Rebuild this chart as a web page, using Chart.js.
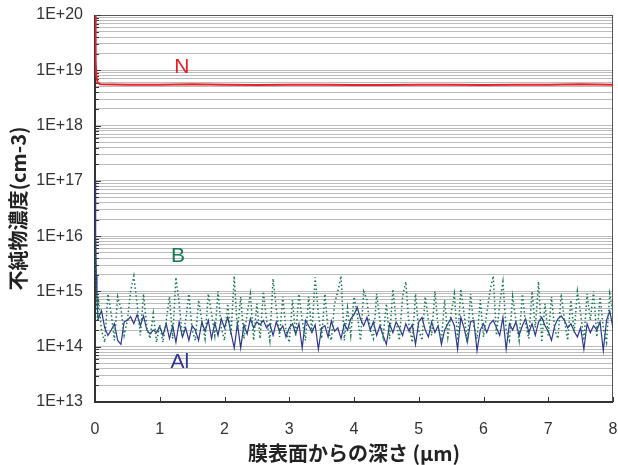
<!DOCTYPE html>
<html>
<head>
<meta charset="utf-8">
<script src="https://cdn.jsdelivr.net/npm/chart.js@4.4.1/dist/chart.umd.min.js"></script>
<style>
  html, body { margin: 0; padding: 0; background: #fff; }
</style>
</head>
<body>
<canvas id="sims" width="618" height="465"></canvas>
<script>
// depth (um) and concentration (cm-3)
const nDepth = [0, 0.01, 0.02, 0.04, 0.08, 0.5, 1, 1.5, 2, 2.5, 3, 3.5, 4, 4.5, 5, 5.5, 6, 6.5, 7, 7.5, 8];
const nConc = [1e20, 1.5e19, 8e18, 6e18, 5.6e18, 5.5e18, 5.5e18, 5.6e18, 5.5e18, 5.4e18, 5.5e18, 5.5e18, 5.4e18,
               5.4e18, 5.5e18, 5.5e18, 5.4e18, 5.5e18, 5.5e18, 5.6e18, 5.5e18];

// near-surface points, then the bulk sampled every 0.05 um from 0.05 to 8.00
const headDepth = [0, 0.01, 0.02, 0.03, 0.04];
const bulkStep = 0.05;

const alHead = [1e17, 1e16, 2e15, 8e14, 4e14];
const alBulk = [
  3.2e14, 4.5e14, 2.2e14, 1.6e14, 2.0e14, 2.6e14, 1.3e14, 1.1e14, 2.8e14, 3.0e14,
  3.5e14, 2.6e14, 3.8e14, 2.4e14, 3.6e14, 2.0e14, 1.7e14, 2.0e14, 1.8e14, 2.3e14,
  1.6e14, 2.6e14, 1.4e14, 2.4e14, 1.2e14, 2.8e14, 1.5e14, 2.2e14, 1.3e14, 2.4e14,
  2.0e14, 1.3e14, 2.8e14, 1.9e14, 3.0e14, 1.4e14, 2.7e14, 1.6e14, 3.2e14, 2.2e14,
  3.4e14, 1.8e14, 0.95e14, 2.6e14, 0.95e14, 2.5e14, 1.7e14, 3.2e14, 2.2e14, 2.8e14,
  2.5e14, 3.0e14, 2.2e14, 2.6e14, 1.6e14, 2.8e14, 1.9e14, 2.4e14, 1.5e14, 2.2e14,
  2.6e14, 1.7e14, 2.6e14, 0.95e14, 3.0e14, 2.4e14, 1.8e14, 2.5e14, 0.9e14, 2.2e14,
  2.4e14, 1.5e14, 2.9e14, 1.9e14, 2.2e14, 1.4e14, 2.6e14, 2.0e14, 3.2e14, 3.8e14,
  5.2e14, 3.2e14, 2.4e14, 3.4e14, 2.0e14, 2.8e14, 1.6e14, 2.4e14, 1.6e14, 1.1e14,
  2.6e14, 1.8e14, 2.8e14, 2.2e14, 1.6e14, 2.6e14, 1.9e14, 2.5e14, 1.1e14, 2.8e14,
  3.4e14, 2.0e14, 1.5e14, 2.8e14, 1.8e14, 2.4e14, 1.1e14, 2.0e14, 2.6e14, 3.3e14,
  2.4e14, 0.9e14, 3.4e14, 2.2e14, 1.2e14, 2.8e14, 3.0e14, 0.85e14, 2.0e14, 2.6e14,
  1.8e14, 2.6e14, 3.0e14, 2.2e14, 1.6e14, 3.4e14, 0.9e14, 2.6e14, 2.0e14, 2.8e14,
  1.6e14, 2.4e14, 3.2e14, 1.8e14, 2.6e14, 1.6e14, 2.8e14, 3.4e14, 2.4e14, 1.9e14,
  1.3e14, 2.4e14, 3.2e14, 3.6e14, 3.0e14, 2.2e14, 2.6e14, 1.9e14, 1.5e14, 2.2e14,
  0.9e14, 2.6e14, 1.8e14, 2.4e14, 2.0e14, 2.8e14, 0.85e14, 3.0e14, 4.4e14, 2.2e14
];

const bHead = [1e16, 3e15, 1.2e15, 5e14, 3e14];
const bBulk = [
  8e14, 2.0e14, 1.2e14, 9e14, 4e14, 1.3e14, 8e14, 5e14, 1.6e14, 3e14,
  10e14, 19e14, 6e14, 1.6e14, 9e14, 2.2e14, 1.4e14, 4e14, 1.2e14, 2.5e14,
  1.2e14, 3e14, 8e14, 1.4e14, 18e14, 6e14, 1.5e14, 3e14, 9e14, 2.0e14,
  1.3e14, 7e14, 3e14, 1.4e14, 9e14, 4e14, 1.6e14, 10e14, 2.2e14, 1.3e14,
  6e14, 1.6e14, 19e14, 2.0e14, 8e14, 1.4e14, 4e14, 9e14, 1.3e14, 6e14,
  1.4e14, 10e14, 3e14, 1.3e14, 17e14, 5e14, 1.5e14, 8e14, 2.0e14, 1.2e14,
  7e14, 1.6e14, 9e14, 3e14, 1.3e14, 8e14, 1.8e14, 18e14, 4e14, 1.4e14,
  9e14, 2.0e14, 1.3e14, 6e14, 10e14, 19e14, 1.3e14, 5e14, 1.6e14, 8e14,
  4e14, 1.3e14, 10e14, 7e14, 2.0e14, 1.4e14, 9e14, 3e14, 1.5e14, 6e14,
  1.4e14, 11e14, 3e14, 1.3e14, 8e14, 15e14, 2.4e14, 1.2e14, 9e14, 2.0e14,
  1.3e14, 8e14, 3e14, 1.6e14, 10e14, 2.2e14, 1.3e14, 7e14, 1.5e14, 4e14,
  9e14, 1.3e14, 11e14, 4e14, 1.2e14, 9e14, 2.4e14, 1.4e14, 7e14, 1.5e14,
  4e14, 10e14, 19e14, 1.6e14, 6e14, 15e14, 2.0e14, 1.3e14, 8e14, 3e14,
  1.3e14, 9e14, 2.6e14, 1.4e14, 10e14, 2.2e14, 15e14, 1.2e14, 6e14, 1.6e14,
  8e14, 2.0e14, 1.4e14, 9e14, 3e14, 1.3e14, 7e14, 1.8e14, 10e14, 4e14,
  1.3e14, 9e14, 3e14, 10e14, 1.5e14, 8e14, 2.2e14, 1.2e14, 9e14, 4e14
];

const decades = [1e13, 1e14, 1e15, 1e16, 1e17, 1e18, 1e19, 1e20];
const minorSteps = [2, 3, 4, 5, 6, 7, 8, 9];
const xTicks = [0, 1, 2, 3, 4, 5, 6, 7, 8];

const seriesNames = ['N', 'B', 'Al'];
const seriesColors = ['#e8202a', '#127a4f', '#2d3591'];
// where the series names sit, in data units
const nameAt = [{ x: 1.34, y: 1.15e19 }, { x: 1.28, y: 4.4e15 }, { x: 1.31, y: 5.3e13 }];

function profile(head, bulk) {
    const pts = head.map((v, i) => ({ x: headDepth[i], y: v }));
    bulk.forEach((v, i) => pts.push({ x: Math.round((i + 1) * bulkStep * 100) / 100, y: v }));
    return pts;
}

const yTickValues = [];
decades.forEach(d => {
    yTickValues.push(d);
    if (d < 1e20) minorSteps.forEach(m => yTickValues.push(m * d));
});

const frame = {
    id: 'frame',
    beforeDatasetsDraw(chart) {
        const { ctx, chartArea: a, scales } = chart;
        ctx.save();
        ctx.strokeStyle = '#555';
        ctx.lineWidth = 1;
        ctx.strokeRect(a.left + 0.5, a.top + 0.5, a.right - a.left - 1, a.bottom - a.top - 1);
        ctx.strokeStyle = '#333';
        ctx.lineWidth = 2;
        ctx.beginPath();
        ctx.moveTo(a.left, a.top);
        ctx.lineTo(a.left, a.bottom);
        ctx.lineTo(a.right, a.bottom);
        ctx.stroke();
        ctx.lineWidth = 1;
        yTickValues.forEach(v => {
            const y = Math.round(scales.y.getPixelForValue(v)) + 0.5;
            const len = decades.includes(v) ? 6 : 4;
            ctx.beginPath();
            ctx.moveTo(a.left, y);
            ctx.lineTo(a.left + len, y);
            ctx.stroke();
        });
        xTicks.forEach(v => {
            const x = Math.round(scales.x.getPixelForValue(v)) + 0.5;
            ctx.beginPath();
            ctx.moveTo(x, a.bottom);
            ctx.lineTo(x, a.bottom - 5);
            ctx.stroke();
        });
        ctx.restore();
    }
};

const names = {
    id: 'names',
    afterDatasetsDraw(chart) {
        const { ctx, scales } = chart;
        ctx.save();
        ctx.font = '21px "Liberation Sans", Arial, sans-serif';
        ctx.textAlign = 'center';
        ctx.textBaseline = 'middle';
        seriesNames.forEach((n, i) => {
            ctx.fillStyle = seriesColors[i];
            ctx.fillText(n, scales.x.getPixelForValue(nameAt[i].x), scales.y.getPixelForValue(nameAt[i].y));
        });
        ctx.restore();
    }
};

new Chart(document.getElementById('sims'), {
    type: 'line',
    data: {
        datasets: [
            {
                label: seriesNames[0],
                data: nDepth.map((d, i) => ({ x: d, y: nConc[i] })),
                borderColor: seriesColors[0], borderWidth: 2, pointRadius: 0, tension: 0
            },
            {
                label: seriesNames[1],
                data: profile(bHead, bBulk),
                borderColor: seriesColors[1], borderWidth: 1.5, borderDash: [1.5, 2.5],
                pointRadius: 0, tension: 0
            },
            {
                label: seriesNames[2],
                data: profile(alHead, alBulk),
                borderColor: seriesColors[2], borderWidth: 1.2, pointRadius: 0, tension: 0
            }
        ]
    },
    plugins: [frame, names],
    options: {
        responsive: false,
        animation: false,
        devicePixelRatio: 1,
        layout: { padding: { top: 15, right: 5, left: 0, bottom: 0 } },
        plugins: { legend: { display: false }, tooltip: { enabled: false } },
        scales: {
            x: {
                type: 'linear', min: 0, max: 8,
                afterBuildTicks: s => { s.ticks = xTicks.map(v => ({ value: v })); },
                afterFit: s => { s.height = 63; s.paddingLeft = 0; s.paddingRight = 0; },
                grid: { display: false, drawTicks: false },
                border: { display: false },
                ticks: {
                    padding: 18, color: '#333',
                    font: { family: '"Liberation Sans", Arial, sans-serif', size: 16 }
                },
                title: {
                    display: true, text: '膜表面からの深さ (μm)', color: '#222',
                    padding: { top: 0, bottom: 0 },
                    font: { family: '"Noto Sans CJK JP", sans-serif', size: 20, weight: 'bold' }
                }
            },
            y: {
                type: 'logarithmic', min: 1e13, max: 1e20,
                afterBuildTicks: s => { s.ticks = yTickValues.map(v => ({ value: v })); },
                afterFit: s => { s.width = 95; s.paddingTop = 0; s.paddingBottom = 0; },
                grid: { color: '#bcbcbc', lineWidth: 1, drawTicks: false },
                border: { display: false },
                ticks: {
                    padding: 12, color: '#333', autoSkip: false,
                    font: { family: '"Liberation Sans", Arial, sans-serif', size: 16 },
                    callback: v => decades.includes(v) ? '1E+' + Math.round(Math.log10(v)) : ''
                },
                title: {
                    display: true, text: '不純物濃度(cm-3)', color: '#222',
                    padding: { top: 6, bottom: 0 },
                    font: { family: '"Noto Sans CJK JP", sans-serif', size: 20, weight: 'bold' }
                }
            }
        }
    }
});
</script>
</body>
</html>
